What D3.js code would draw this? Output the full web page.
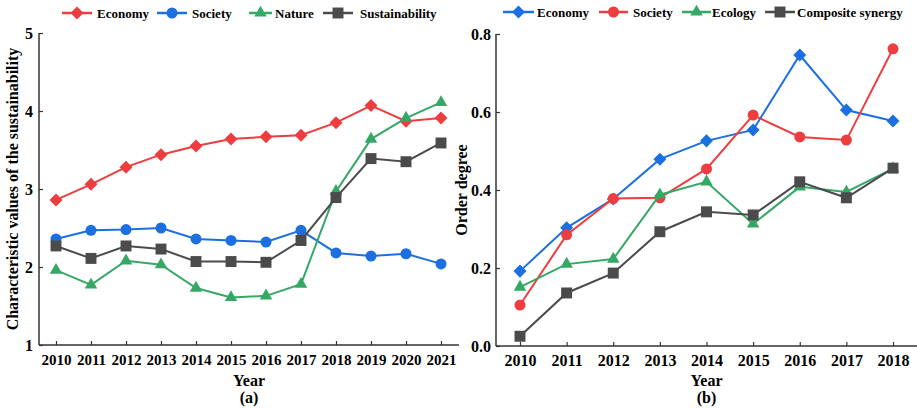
<!DOCTYPE html>
<html>
<head>
<meta charset="utf-8">
<script src="https://cdn.jsdelivr.net/npm/d3@7"></script>
<style>
  html, body { margin: 0; padding: 0; background: #fff; }
  svg { display: block; font-family: "Liberation Serif", "Times New Roman", serif; font-weight: bold; }
</style>
</head>
<body>
<svg id="chart" width="917" height="408"></svg>
<script>
// ---- Panel (a): characteristic values of the sustainability, 2010-2021 ----
const yearsA = [2010, 2011, 2012, 2013, 2014, 2015, 2016, 2017, 2018, 2019, 2020, 2021];
const economyA = [2.86, 3.06, 3.28, 3.44, 3.55, 3.64, 3.67, 3.69, 3.85, 4.07, 3.87, 3.91];
const societyA = [2.36, 2.47, 2.48, 2.50, 2.36, 2.34, 2.32, 2.47, 2.18, 2.14, 2.17, 2.04];
const natureA = [1.96, 1.77, 2.08, 2.03, 1.73, 1.61, 1.63, 1.78, 2.97, 3.64, 3.91, 4.11];
const sustainA = [2.27, 2.11, 2.27, 2.23, 2.07, 2.07, 2.06, 2.34, 2.89, 3.39, 3.35, 3.59];
const yTicksA = [1, 2, 3, 4, 5];

// ---- Panel (b): order degree, 2010-2018 ----
const yearsB = [2010, 2011, 2012, 2013, 2014, 2015, 2016, 2017, 2018];
const economyB = [0.192, 0.303, 0.377, 0.479, 0.526, 0.554, 0.746, 0.605, 0.577];
const societyB = [0.105, 0.285, 0.378, 0.380, 0.454, 0.592, 0.536, 0.528, 0.762];
const ecologyB = [0.151, 0.210, 0.223, 0.388, 0.421, 0.313, 0.408, 0.395, 0.455];
const compositeB = [0.025, 0.136, 0.187, 0.293, 0.344, 0.336, 0.421, 0.380, 0.456];
const yTicksB = [0.0, 0.2, 0.4, 0.6, 0.8];

const RED = "#ee3d3f", BLUE = "#1c6fe0", GREEN = "#35a866", GRAY = "#4b4b4b";
const AXIS = "#333";
const FONT = "'Liberation Serif', 'Times New Roman', serif";

// square-proportioned diamond marker
const diamond = {
  draw(ctx, size) {
    const r = Math.sqrt(size / 2);
    ctx.moveTo(0, -r); ctx.lineTo(r, 0); ctx.lineTo(0, r); ctx.lineTo(-r, 0); ctx.closePath();
  }
};
const triangle = {
  draw(ctx, size) {
    const s = Math.sqrt(size * 4 / Math.sqrt(3));
    const h = s * Math.sqrt(3) / 2;
    ctx.moveTo(0, -h * 2 / 3); ctx.lineTo(s / 2, h / 3); ctx.lineTo(-s / 2, h / 3); ctx.closePath();
  }
};
const MARK = {
  diamond: d3.symbol().type(diamond).size(85),
  circle: d3.symbol().type(d3.symbolCircle).size(95),
  triangle: d3.symbol().type(triangle).size(68),
  square: d3.symbol().type(d3.symbolSquare).size(120)
};

const svg = d3.select("#chart");

function panel(cfg) {
  const g = svg.append("g");
  const x = d3.scaleLinear().domain([cfg.years[0], cfg.years[cfg.years.length - 1]]).range(cfg.xRange);
  const y = d3.scaleLinear().domain(cfg.yDomain).range(cfg.yRange);

  // axes with inward ticks
  const xAxis = g.append("g").attr("transform", `translate(0,${cfg.yRange[0]})`)
    .call(d3.axisBottom(x).tickValues(cfg.years).tickFormat(d3.format("d")).tickSizeInner(-4).tickSizeOuter(0).tickPadding(9));
  xAxis.select(".domain").remove();
  xAxis.selectAll(".tick line").attr("stroke", AXIS).attr("stroke-width", 1.2);
  xAxis.selectAll("text").attr("fill", "#000").style("font-size", cfg.xTickFont + "px")
    .style("font-family", FONT).style("font-weight", "bold");

  const yAxis = g.append("g").attr("transform", `translate(${cfg.axisX},0)`)
    .call(d3.axisLeft(y).tickValues(cfg.yTicks).tickFormat(cfg.yFormat).tickSizeInner(-4).tickSizeOuter(0).tickPadding(cfg.yPad));
  yAxis.select(".domain").remove();
  yAxis.selectAll(".tick line").attr("stroke", AXIS).attr("stroke-width", 1.2);
  yAxis.selectAll("text").attr("fill", "#000").style("font-size", "16px")
    .style("font-family", FONT).style("font-weight", "bold");

  g.append("line").attr("x1", cfg.axisX).attr("x2", cfg.axisX)
    .attr("y1", cfg.yRange[1]).attr("y2", cfg.yRange[0]).attr("stroke", AXIS).attr("stroke-width", 1.5);
  g.append("line").attr("x1", cfg.axisX).attr("x2", cfg.axisEnd)
    .attr("y1", cfg.yRange[0]).attr("y2", cfg.yRange[0]).attr("stroke", AXIS).attr("stroke-width", 1.5);

  // titles
  const midX = (cfg.axisX + cfg.axisEnd) / 2;
  g.append("text").attr("x", midX).attr("y", 386).attr("text-anchor", "middle")
    .style("font-size", "16px").attr("fill", "#000").text("Year");
  g.append("text").attr("x", midX).attr("y", 403).attr("text-anchor", "middle")
    .style("font-size", "16px").attr("fill", "#000").text(cfg.tag);
  g.append("text").attr("transform", `translate(${cfg.yTitleX},${(cfg.yRange[0] + cfg.yRange[1]) / 2}) rotate(-90)`)
    .attr("text-anchor", "middle").style("font-size", cfg.yTitleFont + "px").attr("fill", "#000").text(cfg.yTitle);

  // series
  const line = d3.line().x((d, i) => x(cfg.years[i])).y(d => y(d));
  cfg.series.forEach(s => {
    g.append("path").datum(s.values).attr("d", line).attr("fill", "none")
      .attr("stroke", s.color).attr("stroke-width", 2);
    g.selectAll(null).data(s.values).enter().append("path")
      .attr("transform", (d, i) => `translate(${x(cfg.years[i])},${y(d)})`)
      .attr("d", MARK[s.marker]()).attr("fill", s.color);
  });

  // legend
  const lg = g.append("g");
  cfg.series.forEach((s, i) => {
    const p = cfg.legend[i];
    lg.append("line").attr("x1", p[0]).attr("x2", p[1]).attr("y1", cfg.legendY).attr("y2", cfg.legendY)
      .attr("stroke", s.color).attr("stroke-width", 2.5);
    lg.append("path").attr("transform", `translate(${(p[0] + p[1]) / 2},${cfg.legendY})`)
      .attr("d", MARK[s.marker]()).attr("fill", s.color);
    lg.append("text").attr("x", p[2]).attr("y", cfg.legendY + 4.5)
      .style("font-size", "13px").attr("fill", "#000").text(s.name);
  });
}

panel({
  years: yearsA, xRange: [56, 441], yDomain: [1, 5], yRange: [345, 33],
  axisX: 39, axisEnd: 459, yTicks: yTicksA, yFormat: d3.format("d"), yPad: 6,
  xTickFont: 15, tag: "(a)",
  yTitle: "Characteristic values of the sustainability", yTitleX: 18, yTitleFont: 16,
  legendY: 13,
  legend: [[62, 92, 97], [157, 187, 192], [249, 272, 275], [323, 353, 360]],
  series: [
    { name: "Economy", values: economyA, color: RED, marker: "diamond" },
    { name: "Society", values: societyA, color: BLUE, marker: "circle" },
    { name: "Nature", values: natureA, color: GREEN, marker: "triangle" },
    { name: "Sustainability", values: sustainA, color: GRAY, marker: "square" }
  ]
});

panel({
  years: yearsB, xRange: [520, 893], yDomain: [0, 0.8], yRange: [346, 34],
  axisX: 496, axisEnd: 917, yTicks: yTicksB, yFormat: d3.format(".1f"), yPad: 5,
  xTickFont: 16, tag: "(b)",
  yTitle: "Order degree", yTitleX: 467, yTitleFont: 16,
  legendY: 12,
  legend: [[503, 534, 537], [599, 628, 633], [682, 711, 712], [765, 795, 797]],
  series: [
    { name: "Economy", values: economyB, color: BLUE, marker: "diamond" },
    { name: "Society", values: societyB, color: RED, marker: "circle" },
    { name: "Ecology", values: ecologyB, color: GREEN, marker: "triangle" },
    { name: "Composite synergy", values: compositeB, color: GRAY, marker: "square" }
  ]
});
</script>
</body>
</html>
